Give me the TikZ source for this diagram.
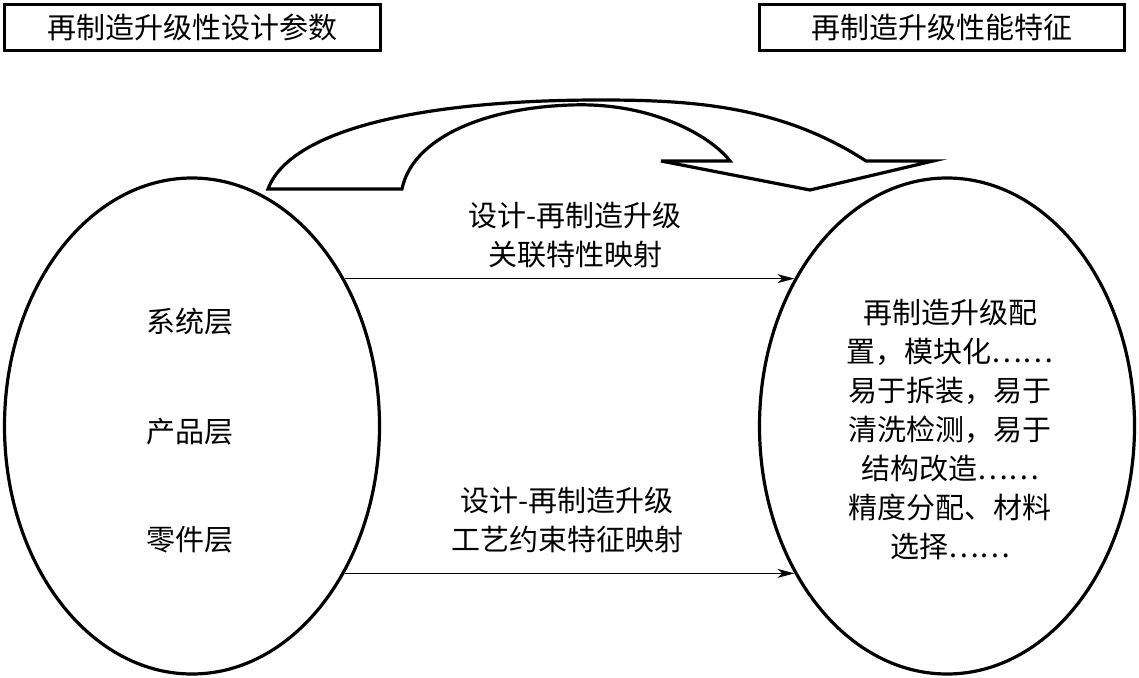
\documentclass[tikz,border=0pt]{standalone}
\usepackage{fontspec}
\setmainfont{Noto Sans CJK SC}
\usetikzlibrary{arrows.meta,shapes.geometric}
\begin{document}
\begin{tikzpicture}[x=1pt,y=-1pt,
  txt/.style={font=\fontsize{29}{39}\selectfont, inner sep=0pt, align=center},
  titlebox/.style={draw, line width=3.4pt, minimum height=46pt, inner sep=0pt, font=\fontsize{29}{35}\selectfont},
  ell/.style={draw, ellipse, line width=3.2pt, minimum width=375pt, minimum height=496pt, inner sep=0pt},
  conn/.style={line width=1.1pt, -{Stealth[length=17pt,width=9pt,inset=5pt]}},
  bigarrow/.style={line width=3.2pt, line join=miter},
]
\useasboundingbox (0,0) rectangle (1139,677);

% title boxes
\node[titlebox, minimum width=376pt] (tl) at (192.5,27.5) {再制造升级性设计参数};
\node[titlebox, minimum width=365pt] (tr) at (942,27.5) {再制造升级性能特征};

% ellipses
\node[ell] (L) at (192,426) {};
\node[ell] (R) at (947,426) {};

% texts in left ellipse
\node[txt] (s1) at (190,322) {系统层};
\node[txt] (s2) at (190,432) {产品层};
\node[txt] (s3) at (190,540) {零件层};

% texts in right ellipse
\node[txt] (rt) at (950,429) {再制造升级配\\置，模块化……\\易于拆装，易于\\清洗检测，易于\\结构改造……\\精度分配、材料\\选择……};

% middle labels
\node[txt] (m1) at (575,235) {设计-再制造升级\\关联特性映射};
\node[txt] (m2) at (567,520) {设计-再制造升级\\工艺约束特征映射};

% connectors
\coordinate (a1) at (L.44);
\coordinate (a2) at (L.-44);
\draw[conn] (a1) -- (R.136 |- a1);
\draw[conn] (a2) -- (R.-136 |- a2);

% big hollow curved arrow
\draw[bigarrow] (268,189) -- (402,189)
  .. controls (412,140) and (480,108) .. (571,105)
  .. controls (650,102) and (710,135) .. (730,161)
  -- (661,161) -- (810,190) -- (933,161) -- (866,161)
  .. controls (780,105) and (690,100) .. (600,100)
  .. controls (420,100) and (290,130) .. (268,189) -- cycle;
\end{tikzpicture}
\end{document}
